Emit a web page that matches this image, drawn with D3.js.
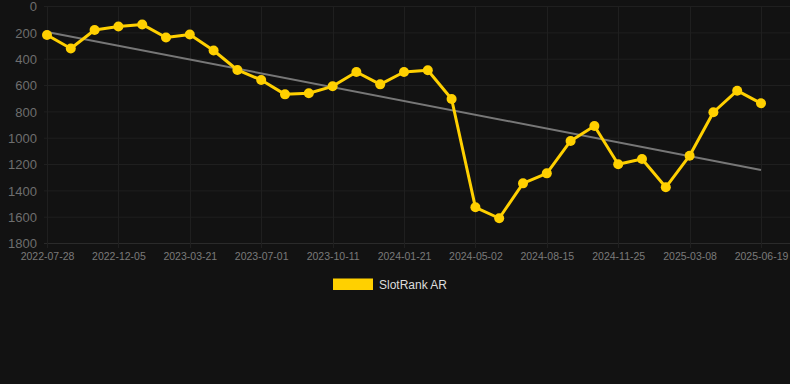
<!DOCTYPE html>
<html><head><meta charset="utf-8">
<script src="https://cdn.jsdelivr.net/npm/d3@7"></script>
<style>
html,body{margin:0;padding:0;background:#121212;}
svg{display:block;font-family:"Liberation Sans",Arial,sans-serif;}
</style></head>
<body><svg id="c" width="790" height="384"></svg>
<script>
const dates = ["2022-07-28","2022-09-09","2022-10-22","2022-12-05","2023-01-09","2023-02-13","2023-03-21","2023-04-24","2023-05-28","2023-07-01","2023-08-04","2023-09-07","2023-10-11","2023-11-14","2023-12-18","2024-01-21","2024-02-24","2024-03-29","2024-05-02","2024-06-06","2024-07-11","2024-08-15","2024-09-18","2024-10-22","2024-11-25","2024-12-29","2025-02-01","2025-03-08","2025-04-11","2025-05-15","2025-06-19"];
const ranks = [220,323,182,156,140,239,216,338,486,562,671,663,610,501,595,501,488,706,1529,1612,1347,1271,1025,911,1202,1162,1377,1137,807,643,739];
const tickLabels = ["2022-07-28","2022-12-05","2023-03-21","2023-07-01","2023-10-11","2024-01-21","2024-05-02","2024-08-15","2024-11-25","2025-03-08","2025-06-19"];
const yTicks = [0,200,400,600,800,1000,1200,1400,1600,1800];
const seriesName = "SlotRank AR";

(function(){
const svg = d3.select("#c");
const pLeft = 44, pRight = 790, pTop = 6, pBottom = 243;
const x = d3.scalePoint().domain(dates).range([47, 761]);
const y = d3.scaleLinear().domain([0, 1800]).range([pTop, pBottom]);

// grid
svg.append("g").selectAll("line").data(yTicks).join("line")
  .attr("x1", pLeft).attr("x2", pRight)
  .attr("y1", d => y(d) + 0.5).attr("y2", d => y(d) + 0.5)
  .attr("stroke", d => d === 1800 ? "#2a2a2a" : "#1f1f1f").attr("stroke-width", 1);
svg.append("g").selectAll("line").data(tickLabels).join("line")
  .attr("x1", d => Math.round(x(d)) + 0.5).attr("x2", d => Math.round(x(d)) + 0.5)
  .attr("y1", pTop).attr("y2", pBottom + 5)
  .attr("stroke", "#1f1f1f").attr("stroke-width", 1);

// y axis
const yAxis = d3.axisLeft(y).tickValues(yTicks).tickFormat(d3.format("d")).tickSize(0).tickPadding(0);
const gy = svg.append("g").attr("transform", "translate(37,0)").call(yAxis);
gy.select(".domain").remove();
gy.selectAll("text").attr("fill", "#6e6e6e").attr("font-size", 13).attr("dy", "0.36em");

// x axis
const xAxis = d3.axisBottom(x).tickValues(tickLabels).tickSize(0).tickPadding(0);
const gx = svg.append("g").attr("transform", "translate(0,253)").call(xAxis);
gx.select(".domain").remove();
gx.selectAll("text").attr("fill", "#7a7a7a").attr("font-size", 10.5).attr("dy", "0.71em");

// trend line (least squares)
const n = ranks.length;
const idx = d3.range(n);
const mx = d3.mean(idx), my = d3.mean(ranks);
const slope = d3.sum(idx, i => (i - mx) * (ranks[i] - my)) / d3.sum(idx, i => (i - mx) ** 2);
const icpt = my - slope * mx;
svg.append("line")
  .attr("x1", x(dates[0])).attr("y1", y(icpt))
  .attr("x2", x(dates[n - 1])).attr("y2", y(icpt + slope * (n - 1)))
  .attr("stroke", "#777").attr("stroke-width", 2);

// series
const line = d3.line().x((d, i) => x(dates[i])).y(d => y(d));
svg.append("path").datum(ranks).attr("d", line)
  .attr("fill", "none").attr("stroke", "#ffd000").attr("stroke-width", 3).attr("stroke-linejoin", "round");
svg.append("g").selectAll("circle").data(ranks).join("circle")
  .attr("cx", (d, i) => x(dates[i])).attr("cy", d => y(d)).attr("r", 5)
  .attr("fill", "#ffd000");

// legend
svg.append("rect").attr("x", 333).attr("y", 278.5).attr("width", 40).attr("height", 11.5).attr("fill", "#ffd000");
svg.append("text").attr("x", 379).attr("y", 289).attr("fill", "#dddddd").attr("font-size", 12).text(seriesName);
})();
</script></body></html>
